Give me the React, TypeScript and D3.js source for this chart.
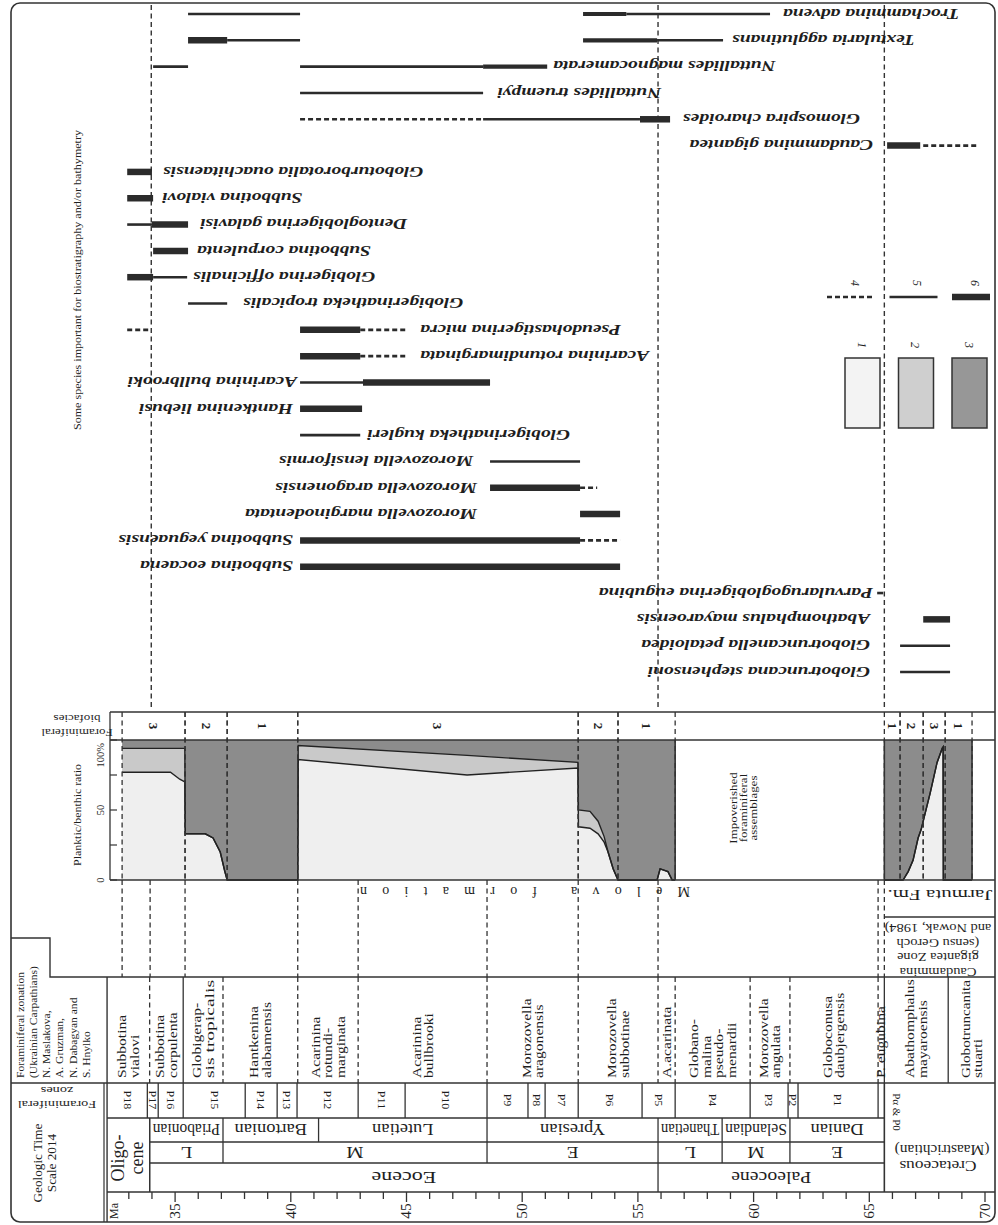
import React from 'react';
import * as d3 from 'd3';

// ages in Ma, time runs left (young) -> right (old)
const epochs = [
  { name: 'Eocene', from: 33.9, to: 55.87 },
  { name: 'Paleocene', from: 55.87, to: 65.65 },
];
const subEpochs = [
  { name: 'L', from: 33.9, to: 37.07 },
  { name: 'M', from: 37.07, to: 48.48 },
  { name: 'E', from: 48.48, to: 55.87 },
  { name: 'L', from: 55.87, to: 58.64 },
  { name: 'M', from: 58.64, to: 61.57 },
  { name: 'E', from: 61.57, to: 65.65 },
];
const stages = [
  { name: 'Priabonian', from: 33.9, to: 37.07 },
  { name: 'Bartonian', from: 37.07, to: 41.2 },
  { name: 'Lutetian', from: 41.2, to: 48.48 },
  { name: 'Ypresian', from: 48.48, to: 55.87 },
  { name: 'Thanetian', from: 55.87, to: 58.64 },
  { name: 'Selandian', from: 58.64, to: 61.57 },
  { name: 'Danian', from: 61.57, to: 65.65 },
];
const pZones = [
  { name: 'P18', from: 32.06, to: 33.8 },
  { name: 'P17', from: 33.8, to: 34.27 },
  { name: 'P16', from: 34.27, to: 35.35 },
  { name: 'P15', from: 35.35, to: 38.03 },
  { name: 'P14', from: 38.03, to: 39.41 },
  { name: 'P13', from: 39.41, to: 40.27 },
  { name: 'P12', from: 40.27, to: 42.91 },
  { name: 'P11', from: 42.91, to: 44.94 },
  { name: 'P10', from: 44.94, to: 48.48 },
  { name: 'P9', from: 48.48, to: 50.25 },
  { name: 'P8', from: 50.25, to: 50.99 },
  { name: 'P7', from: 50.99, to: 52.42 },
  { name: 'P6', from: 52.42, to: 55.18 },
  { name: 'P5', from: 55.18, to: 56.61 },
  { name: 'P4', from: 56.61, to: 59.85 },
  { name: 'P3', from: 59.85, to: 61.49 },
  { name: 'P2', from: 61.49, to: 61.92 },
  { name: 'P1', from: 61.92, to: 65.38 },
  { name: '', from: 65.38, to: 65.65 },
];
// Ukrainian Carpathians zonation
const zonation = [
  { lines: ['Subbotina', 'vialovi'], from: 32.06, to: 33.9 },
  { lines: ['Subbotina', 'corpulenta'], from: 33.9, to: 35.35 },
  { lines: ['Globigerap-', 'sis tropicalis'], from: 35.35, to: 37.07 },
  { lines: ['Hantkenina', 'alabamensis'], from: 37.07, to: 40.3 },
  { lines: ['Acarinina', 'rotundi-', 'marginata'], from: 40.3, to: 42.91 },
  { lines: ['Acarinina', 'bullbrooki'], from: 42.91, to: 48.48 },
  { lines: ['Morozovella', 'aragonensis'], from: 48.48, to: 52.42 },
  { lines: ['Morozovella', 'subbotinae'], from: 52.42, to: 55.87 },
  { lines: ['A.acarinata'], from: 55.87, to: 56.61 },
  { lines: ['Globano-', 'malina', 'pseudo-', 'menardii'], from: 56.61, to: 59.85 },
  { lines: ['Morozovella', 'angulata'], from: 59.85, to: 61.57 },
  { lines: ['Globoconusa', 'daubjergensis'], from: 61.57, to: 65.38 },
  { lines: ['P. eugubina'], from: 65.38, to: 65.65 },
  { lines: ['Abathomphalus', 'mayaroensis'], from: 65.65, to: 68.41 },
  { lines: ['Globotruncanita', 'stuarti'], from: 68.41, to: 70.44 },
];
const solidZoneBounds = [35.35, 65.65, 68.41];

const biofacies = [
  { name: '3', from: 32.71, to: 35.43 },
  { name: '2', from: 35.43, to: 37.25 },
  { name: '1', from: 37.25, to: 40.3 },
  { name: '3', from: 40.3, to: 52.42 },
  { name: '2', from: 52.42, to: 54.14 },
  { name: '1', from: 54.14, to: 56.61 },
  { name: '1', from: 65.65, to: 66.33 },
  { name: '2', from: 66.33, to: 67.33 },
  { name: '3', from: 67.33, to: 68.28 },
  { name: '1', from: 68.28, to: 69.44 },
];
const formationBreaks = [32.71, 33.92, 35.43, 40.3, 42.91, 48.48, 52.42, 55.87, 65.38, 65.65];

// planktic/benthic ratio: [age, top of light %, top of medium %], dark up to 100 %
const ratioPaleogene = [
  [32.71, 77, 94], [34.8, 77, 94], [35.2, 72, 94], [35.42, 70, 94],
  [35.44, 33, 33], [36.3, 33, 33], [36.64, 30, 30], [36.95, 20, 20], [37.15, 6, 6], [37.25, 0, 0],
  [40.3, 0, 0], [40.32, 86, 96], [47.62, 75, 89], [52.41, 80, 84],
  [52.43, 38, 50], [52.93, 37, 49], [53.28, 33, 42], [53.54, 27, 31], [53.71, 20, 20], [53.93, 8, 8], [54.14, 0, 0],
  [55.83, 0, 0], [55.96, 8, 8], [56.3, 6, 6], [56.48, 0, 0], [56.61, 0, 0],
];
const ratioCretaceous = [
  [65.65, 0, 0], [66.46, 0, 0], [66.68, 6, 6], [66.89, 14, 14], [67.11, 30, 30], [67.24, 36, 36],
  [67.33, 42, 42], [67.63, 62, 62], [67.93, 84, 84], [68.15, 94, 94], [68.19, 95, 95],
  [68.2, 0, 0], [69.44, 0, 0],
];
const ratioTicks = [0, 25, 50, 75, 100];
const ratioLabels = [{ v: 0, t: '0' }, { v: 50, t: '50' }, { v: 100, t: '100%' }];

const species = [
  'Trochammina advena',
  'Textularia agglutinans',
  'Nuttallides magnocamerata',
  'Nuttallides truempyi',
  'Glomospira charoides',
  'Caudammina gigantea',
  'Globoturborotalia ouachitaensis',
  'Subbotina vialovi',
  'Dentoglobigerina galavisi',
  'Subbotina corpulenta',
  'Globigerina officinalis',
  'Globigerinatheka tropicalis',
  'Pseudohastigerina micra',
  'Acarinina rotundimarginata',
  'Acarinina bullbrooki',
  'Hantkenina liebusi',
  'Globigerinatheka kugleri',
  'Morozovella lensiformis',
  'Morozovella aragonensis',
  'Morozovella marginodentata',
  'Subbotina yeguaensis',
  'Subbotina eocaena',
  'Parvularugoglobigerina eugubina',
  'Abathomphalus mayaroensis',
  'Globotruncanella petaloidea',
  'Globotruncana stephensoni',
];
// [from, to, style] per species
const speciesRanges: [number, number, string][][] = [
  [[35.56, 40.4, 'thin'], [52.63, 54.5, 'mid'], [54.5, 60.71, 'thin']],
  [[35.56, 37.25, 'thick'], [37.25, 40.4, 'thin'], [52.63, 55.83, 'mid'], [55.83, 58.68, 'thin']],
  [[34.05, 35.56, 'thin'], [40.4, 48.31, 'thin'], [48.31, 51.08, 'mid']],
  [[40.4, 48.31, 'thin']],
  [[40.4, 48.31, 'dash'], [48.31, 55.09, 'thin'], [55.09, 56.39, 'thick']],
  [[65.77, 67.2, 'thick'], [67.33, 69.66, 'dash']],
  [[32.93, 34.0, 'thick']],
  [[32.93, 34.05, 'thick']],
  [[32.93, 34.0, 'thin'], [34.0, 35.56, 'thick']],
  [[34.05, 35.56, 'thick']],
  [[32.93, 34.05, 'thick'], [34.05, 35.52, 'thin']],
  [[35.56, 37.25, 'thin']],
  [[32.93, 33.92, 'dash'], [40.4, 43.0, 'thick'], [43.0, 45.03, 'dash']],
  [[40.4, 43.0, 'thick'], [43.0, 45.03, 'dash']],
  [[40.4, 43.12, 'thin'], [43.12, 48.61, 'thick']],
  [[40.4, 43.08, 'thick']],
  [[40.4, 43.0, 'thin']],
  [[48.61, 52.5, 'thin']],
  [[48.61, 52.5, 'thick'], [52.5, 53.24, 'dash']],
  [[52.5, 54.23, 'thick']],
  [[40.4, 52.5, 'thick'], [52.5, 54.23, 'dash']],
  [[40.4, 54.23, 'thick']],
  [[65.34, 65.6, 'thin']],
  [[67.33, 68.49, 'thick']],
  [[66.33, 68.49, 'thin']],
  [[66.33, 68.49, 'thin']],
];
// label edge age and side (R: label lies older/right of that age, L: younger/left)
const speciesLabels: [number, string][] = [
  [61.27, 'R'], [59.07, 'R'], [51.34, 'R'], [48.92, 'R'], [56.95, 'R'], [65.16, 'L'],
  [34.48, 'R'], [34.44, 'R'], [36.08, 'R'], [35.95, 'R'], [35.78, 'R'], [37.94, 'R'],
  [45.59, 'R'], [45.59, 'R'], [40.27, 'L'], [40.1, 'L'], [43.3, 'R'], [47.88, 'L'],
  [48.05, 'L'], [48.05, 'L'], [40.1, 'L'], [40.1, 'L'], [65.16, 'L'], [65.03, 'L'],
  [65.03, 'L'], [65.03, 'L'],
];
const speciesGuides = [33.97, 55.87, 65.65];

const legendFills = [{ id: '1', fill: '#f3f3f3' }, { id: '2', fill: '#cfcfcf' }, { id: '3', fill: '#979797' }];
const legendLines = [{ id: '4', style: 'dash' }, { id: '5', style: 'thin' }, { id: '6', style: 'thick' }];

const minorTicks = d3.range(33, 71);
const majorTicks = [35, 40, 45, 50, 55, 60, 65, 70];

const FILL = { light: '#efefef', medium: '#c9c9c9', dark: '#8c8c8c' };
const INK = '#333';
const DASH = '5,3.5';
const WIDTH: Record<string, number> = { thick: 6.5, mid: 4.2, thin: 2.6, dash: 2.6 };

function T({ x, y, rot = 0, size = 12, sx = 1, anchor = 'middle', italic = false, max, len, spacing, weight, children }: any) {
  const s = String(children);
  let k = sx;
  let tl = len;
  if (max !== undefined && tl === undefined) {
    const est = s.length * size * 0.47 * sx;
    if (est > max) { tl = max; k = 1; }
  }
  return (
    <text
      transform={`translate(${x},${y}) rotate(${rot}) scale(${k},1)`}
      fontSize={size}
      textAnchor={anchor}
      dy="0.35em"
      fontStyle={italic ? 'italic' : 'normal'}
      fontWeight={weight}
      fill="#1e1e1e"
      textLength={tl}
      lengthAdjust={spacing || 'spacingAndGlyphs'}
    >{s}</text>
  );
}

export default function App() {
  const x = d3.scaleLinear().domain([30, 70]).range([59.4, 985]);
  const r = d3.scaleLinear().domain([0, 100]).range([880, 740]);
  const sy = d3.scalePoint<string>().domain(species).range([14, 672]);

  const Y = { bio: 712, plotTop: 740, plotBot: 880, cret: 917, zone: 977, p: 1083, stage: 1118, sub: 1142, epoch: 1163, tick: 1192, bottom: 1222 };
  const L0 = x(32.06), R0 = 995, KPG = 65.65;

  const vline = (a: number, y1: number, y2: number, dashed: boolean, key: string, w = 1.3) => (
    <line key={key} x1={x(a)} x2={x(a)} y1={y1} y2={y2} stroke={INK} strokeWidth={w} strokeDasharray={dashed ? DASH : undefined} />
  );
  const hline = (y: number, x1: number, x2: number, key: string) => (
    <line key={key} x1={x1} x2={x2} y1={y} y2={y} stroke={INK} strokeWidth={1.4} />
  );

  const area = (lo: (d: number[]) => number, hi: (d: number[]) => number) =>
    d3.area<number[]>().x(d => x(d[0])).y0(d => r(lo(d))).y1(d => r(hi(d)));
  const edge = (f: (d: number[]) => number) => d3.line<number[]>().x(d => x(d[0])).y(d => r(f(d)));

  const mid = (a: number, b: number) => (x(a) + x(b)) / 2;

  return (
    <svg width={998} height={1225} style={{ position: 'absolute', left: 0, top: 0, display: 'block', background: '#fff' }}
      fontFamily="'Liberation Serif', 'DejaVu Serif', serif">
      <rect x={0} y={0} width={998} height={1225} fill="#fff" />

      {/* outer frame */}
      <rect x={11} y={3} width={984} height={1219} rx={9} fill="none" stroke={INK} strokeWidth={1.6} />

      {/* ---------- species ranges ---------- */}
      {speciesGuides.map((a, i) => vline(a, 5, 708, true, 'sg' + i, 1.4))}
      {species.map((s, i) => (
        <g key={s}>
          {speciesRanges[i].map(([a, b, st], j) => (
            <line key={j} x1={x(a)} x2={x(b)} y1={sy(s)} y2={sy(s)} stroke="#2b2b2b"
              strokeWidth={WIDTH[st]} strokeDasharray={st === 'dash' ? '5,3' : undefined} />
          ))}
          <T x={x(speciesLabels[i][0])} y={sy(s)} rot={180} size={15} sx={1.3} italic weight="bold"
            anchor={speciesLabels[i][1] === 'R' ? 'end' : 'start'}>{s}</T>
        </g>
      ))}

      {/* legend */}
      {legendLines.map((d, i) => {
        const x1 = 827 + i * 62.5;
        const x2 = x1 + (i === 2 ? 38 : 48);
        return (
          <g key={d.id}>
            <line x1={x1} x2={x2} y1={297} y2={297} stroke="#2b2b2b" strokeWidth={WIDTH[d.style]}
              strokeDasharray={d.style === 'dash' ? '5,3' : undefined} />
            <T x={(x1 + x2) / 2 + 4} y={283} rot={90} size={12} italic>{d.id}</T>
          </g>
        );
      })}
      {legendFills.map((d, i) => {
        const x1 = 845 + i * 53.5;
        return (
          <g key={d.id}>
            <rect x={x1} y={358} width={35} height={70} fill={d.fill} stroke={INK} strokeWidth={1.5} />
            <T x={x1 + 17} y={345} rot={90} size={12} italic>{d.id}</T>
          </g>
        );
      })}
      <T x={77} y={280} rot={-90} size={10} len={300}>Some species important for biostratigraphy and/or bathymetry</T>

      {/* ---------- biofacies + ratio plot ---------- */}
      {[ratioPaleogene, ratioCretaceous].map((seg, i) => (
        <g key={'seg' + i}>
          <path d={area(() => 0, d => d[1])(seg) || ''} fill={FILL.light} />
          <path d={area(d => d[1], d => d[2])(seg) || ''} fill={FILL.medium} />
          <path d={area(d => d[2], () => 100)(seg) || ''} fill={FILL.dark} />
          <path d={edge(d => d[1])(seg) || ''} fill="none" stroke="#222" strokeWidth={1.4} />
          <path d={edge(d => d[2])(seg) || ''} fill="none" stroke="#222" strokeWidth={1.4} />
          {i === 1 && vline(seg[0][0], r(100), r(0), false, 'e0', 1.6)}
          {vline(seg[seg.length - 1][0], r(100), r(0), false, 'e1', 1.6)}
        </g>
      ))}
      {biofacies.map((b, i) => (
        <g key={'bf' + i}>
          {vline(b.from, Y.bio, Y.plotBot, true, 'bfa')}
          {vline(b.to, Y.bio, Y.plotBot, true, 'bfb')}
          <T x={mid(b.from, b.to)} y={726} rot={90} size={13} weight="bold">{b.name}</T>
        </g>
      ))}
      {hline(Y.bio, 110, R0, 'hb')}
      {hline(Y.plotTop, 110, R0, 'hp')}
      {hline(Y.plotBot, 110, R0, 'hq')}
      <line x1={110} x2={110} y1={Y.bio} y2={Y.plotBot} stroke={INK} strokeWidth={1.3} />
      {ratioTicks.map(v => <line key={'rt' + v} x1={110} x2={117} y1={r(v)} y2={r(v)} stroke={INK} strokeWidth={1.2} />)}
      {ratioLabels.map(d => (
        <T key={'rl' + d.v} x={100} y={d.v === 100 ? r(100) + 3 : r(d.v)} rot={-90} size={10.5}
          anchor={d.v === 100 ? 'end' : 'middle'}>{d.t}</T>
      ))}
      <T x={77} y={815} rot={-90} size={11} sx={1.08}>Planktic/benthic ratio</T>
      <T x={77} y={733} rot={180} size={10} sx={1.3}>Foraminiferal</T>
      <T x={77} y={719} rot={180} size={10} sx={1.3}>biofacies</T>
      {['Impoverished', 'foraminiferal', 'assemblages'].map((t, i) => (
        <T key={t} x={733 + i * 10} y={808} rot={-90} size={10} sx={1.3}>{t}</T>
      ))}

      {/* ---------- formation row ---------- */}
      {formationBreaks.map((a, i) => vline(a, Y.plotBot, Y.zone, true, 'fb' + i))}
      <T x={525} y={892} rot={180} size={14} len={330} spacing="spacing">Melova formation</T>
      <T x={940} y={895} rot={180} size={15} sx={1.4}>Jarmuta Fm.</T>
      {hline(Y.cret, x(KPG), R0, 'hc')}
      {['Caudammina', 'gigantea Zone', '(sensu Geroch', 'and Nowak, 1984)'].map((t, i) => (
        <T key={t} x={938} y={972 - i * 14.5} rot={180} size={12} sx={1.2}>{t}</T>
      ))}

      {/* ---------- zonation row ---------- */}
      <path d={`M11,938 H50 V${Y.zone} H${R0}`} fill="none" stroke={INK} strokeWidth={1.4} />
      <line x1={L0} x2={L0} y1={Y.zone} y2={Y.bottom} stroke={INK} strokeWidth={1.4} />
      {zonation.slice(0, -1).map((z, i) => vline(z.to, Y.zone, Y.p, !solidZoneBounds.includes(z.to), 'zb' + i))}
      {zonation.map((z, i) => (
        <g key={'zn' + i}>
          {z.lines.map((t, j) => (
            <T key={j} x={mid(z.from, z.to) + (j - (z.lines.length - 1) / 2) * 12.5} y={1078} rot={-90}
              size={12} sx={1.3} anchor="start" max={98}>{t}</T>
          ))}
        </g>
      ))}
      {['Foraminiferal zonation', '(Ukrainian Carpathians)', 'N. Maslakova,', 'A. Gruzman,', 'N. Dabagyan and', 'S. Hnylko'].map((t, i) => (
        <T key={t} x={20 + i * 13.2} y={1078} rot={-90} size={11} sx={1.05} anchor="start">{t}</T>
      ))}

      {/* ---------- planktonic zones ---------- */}
      {hline(Y.p, 11, R0, 'hpz')}
      {pZones.slice(0, -1).map((z, i) => vline(z.to, Y.p, Y.stage, false, 'pb' + i))}
      {pZones.map((z, i) => z.name && (
        <T key={'pn' + i} x={mid(z.from, z.to)} y={1100} rot={90} size={10.5} sx={1.15}>{z.name}</T>
      ))}
      <T x={57} y={1105} rot={180} size={11} sx={1.3}>Foraminiferal</T>
      <T x={57} y={1091} rot={180} size={11} sx={1.3}>zones</T>
      <T x={897} y={1112} rot={90} size={11}>Pα &amp; P0</T>
      {vline(KPG, Y.p, Y.tick, false, 'kpg', 1.6)}

      {/* ---------- time scale ---------- */}
      {hline(Y.stage, L0, x(KPG), 'hs')}
      {hline(Y.sub, x(33.9), x(KPG), 'hsu')}
      {hline(Y.epoch, x(33.9), x(KPG), 'he')}
      {hline(Y.tick, L0, R0, 'ht')}
      {stages.map((s, i) => (
        <g key={'st' + i}>
          {vline(s.from, Y.stage, Y.sub, false, 'a')}
          <T x={mid(s.from, s.to)} y={(Y.stage + Y.sub) / 2} rot={180} size={16} sx={1.15}
            max={x(s.to) - x(s.from) - 6}>{s.name}</T>
        </g>
      ))}
      {subEpochs.map((s, i) => (
        <g key={'se' + i}>
          {vline(s.from, Y.sub, Y.epoch, false, 'a')}
          <T x={mid(s.from, s.to)} y={(Y.sub + Y.epoch) / 2} rot={180} size={16} sx={1.2}>{s.name}</T>
        </g>
      ))}
      {epochs.map((s, i) => (
        <g key={'ep' + i}>
          {vline(s.from, Y.epoch, Y.tick, false, 'a')}
          <T x={mid(s.from, s.to)} y={(Y.epoch + Y.tick) / 2} rot={180} size={17} sx={1.3} max={80}>{s.name}</T>
        </g>
      ))}
      {vline(33.9, Y.stage, Y.tick, false, 'olig')}
      <T x={118} y={1158} rot={-90} size={18}>Oligo-</T>
      <T x={137} y={1158} rot={-90} size={18}>cene</T>
      <T x={938} y={1166} rot={180} size={14.5} sx={1.2}>Cretaceous</T>
      <T x={942} y={1150} rot={180} size={14} sx={1.1}>(Maastrichtian)</T>

      {minorTicks.map(t => (
        <line key={'mt' + t} x1={x(t)} x2={x(t)} y1={Y.tick} y2={Y.tick + (t % 5 === 0 ? 10 : 7)} stroke={INK} strokeWidth={1.3} />
      ))}
      {majorTicks.map(t => (
        <T key={'ml' + t} x={x(t)} y={1211} rot={-90} size={14} sx={1.1}>{t}</T>
      ))}
      <T x={114} y={1211} rot={-90} size={12}>Ma</T>

      <T x={38} y={1163} rot={-90} size={12} sx={1.1}>Geologic Time</T>
      <T x={52} y={1163} rot={-90} size={12} sx={1.1}>Scale 2014</T>
      <line x1={104} x2={104} y1={Y.p} y2={Y.bottom} stroke={INK} strokeWidth={1.2} />
    </svg>
  );
}
